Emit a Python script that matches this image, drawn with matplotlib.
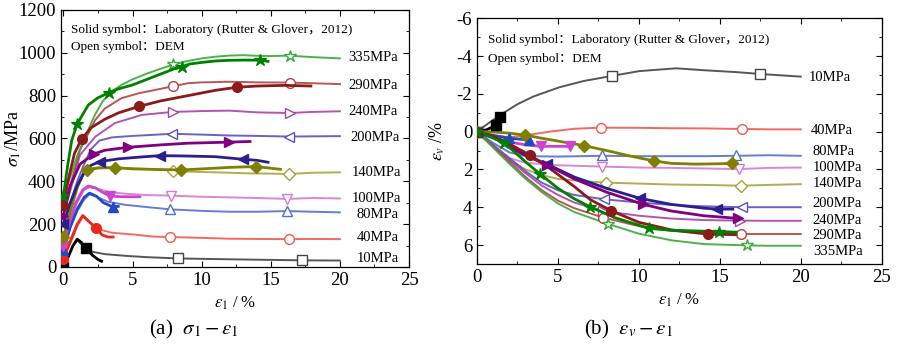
import matplotlib
matplotlib.use("Agg")
import matplotlib.pyplot as plt
from matplotlib.ticker import MultipleLocator

plt.rcParams['font.family'] = ['Liberation Serif', 'Noto Sans CJK SC']
plt.rcParams['mathtext.fontset'] = 'stix'
plt.rcParams['axes.unicode_minus'] = False

pressures = [10, 40, 80, 100, 140, 200, 240, 290, 335]
labels = ['10MPa', '40MPa', '80MPa', '100MPa', '140MPa', '200MPa', '240MPa', '290MPa', '335MPa']
markers = ['s', 'o', '^', 'v', 'D', '<', '>', 'o', '*']
lab_colors = ['#000000', '#e8291c', '#2448c4', '#cc44cc', '#808000', '#2b1f8f', '#800080', '#8b1a1a', '#008000']
dem_colors = ['#444444', '#f05a50', '#5570cc', '#d578d5', '#a5a540', '#5a52b8', '#a844a8', '#b04444', '#3aa83a']

# ---- (a) axial stress vs axial strain ----
sig_lab = {
    10: [(0, 0), (0.3, 40), (0.7, 100), (1.0, 130), (1.3, 115), (1.63, 89), (2.1, 55), (2.5, 35), (2.76, 27)],
    40: [(0, 38), (0.5, 120), (1.0, 200), (1.4, 240), (1.8, 215), (2.36, 181), (2.8, 150), (3.2, 140), (3.6, 140)],
    80: [(0, 78), (0.5, 190), (1.0, 270), (1.5, 325), (1.9, 345), (2.4, 330), (2.9, 300), (3.56, 281), (3.97, 283)],
    100: [(0, 100), (0.4, 200), (0.9, 300), (1.4, 360), (1.8, 378), (2.3, 370), (2.8, 350), (3.37, 331), (4.2, 328), (5.53, 328)],
    140: [(0, 140), (0.5, 260), (1.0, 370), (1.4, 430), (1.73, 453), (2.5, 462), (3.73, 464), (5, 458), (7, 455), (8.53, 453),
          (10, 458), (12, 465), (13.94, 469), (15.7, 456)],
    200: [(0, 200), (0.5, 300), (1.0, 380), (1.5, 440), (2.0, 475), (2.64, 492), (4, 505), (5.5, 513), (6.97, 520),
          (9, 518), (11, 515), (12.98, 503), (14, 498), (14.8, 489)],
    240: [(0, 240), (0.5, 380), (1.2, 480), (2.2, 528), (3, 545), (4.69, 559), (7, 570), (9, 578), (12, 583), (13.5, 586)],
    290: [(0, 290), (0.4, 420), (0.8, 530), (1.32, 597), (2, 650), (3, 690), (4, 720), (5.48, 750), (7, 775), (9, 800),
          (11, 825), (12.55, 839), (14, 845), (16, 848), (17.9, 845)],
    335: [(0, 330), (0.3, 470), (0.6, 590), (1.0, 668), (1.8, 756), (2.5, 790), (3.3, 814), (4, 832), (5, 850), (6, 875),
          (7, 900), (8, 925), (8.55, 935), (9.15, 948), (10, 955), (11, 962), (12, 965), (13, 966), (14.2, 966), (14.8, 960)],
}
sig_lab_mk = {
    10: [(0, 0), (1.63, 89)],
    40: [(0, 38), (2.36, 181)],
    80: [(0, 78), (3.56, 281)],
    100: [(0, 100), (3.37, 331)],
    140: [(0, 140), (1.73, 453), (3.73, 464), (8.53, 453), (13.94, 469)],
    200: [(0, 200), (2.64, 492), (6.97, 520), (12.98, 503)],
    240: [(0, 240), (2.2, 528), (4.69, 559), (12.0, 583)],
    290: [(0, 290), (1.32, 597), (5.48, 750), (12.55, 839)],
    335: [(0, 330), (1.0, 668), (3.3, 814), (8.55, 935), (14.2, 966)],
}
sig_dem = {
    10: [(0, 10), (0.3, 40), (0.7, 100), (1.0, 125), (1.4, 100), (2.0, 72), (3, 60), (4.5, 52), (6, 46), (8.29, 40),
         (10, 38), (12, 36), (14, 34), (17.24, 31), (20, 30)],
    40: [(0, 38), (0.5, 110), (1.0, 190), (1.45, 240), (2.0, 205), (2.6, 175), (3.5, 160), (5, 152), (6.5, 142),
         (7.69, 140), (10, 136), (12, 132), (14, 131), (16.35, 130), (18, 131), (20, 130)],
    80: [(0, 78), (0.5, 180), (1.0, 260), (1.5, 315), (1.9, 340), (2.5, 325), (3.2, 305), (4.5, 290), (6, 280),
         (7.74, 269), (10, 262), (12, 258), (14, 258), (16.2, 261), (18, 258), (20, 255)],
    100: [(0, 100), (0.5, 210), (1.0, 300), (1.5, 360), (1.9, 372), (2.5, 365), (3.3, 350), (4.5, 342), (6, 336),
          (7.8, 333), (10, 328), (12, 325), (14, 322), (16.2, 318), (18, 322), (20, 320)],
    140: [(0, 140), (0.5, 260), (1.0, 370), (1.5, 440), (2.0, 462), (3, 466), (4.5, 462), (6, 458), (7.93, 450),
          (9.15, 445), (11, 442), (12, 440), (13.5, 437), (15, 436), (16.3, 434), (18, 440), (20, 442)],
    200: [(0, 200), (0.5, 300), (1.0, 400), (1.5, 480), (2.0, 550), (2.6, 590), (3.5, 605), (5, 612), (6.5, 617),
          (7.9, 622), (10, 618), (12, 614), (14, 612), (16.35, 609), (18, 610), (20, 611)],
    240: [(0, 240), (0.6, 380), (1.2, 523), (2.3, 608), (3.73, 672), (5.66, 710), (7.9, 724), (10, 728), (12, 730),
          (14, 722), (16.4, 719), (18, 724), (20, 727)],
    290: [(0, 290), (0.5, 380), (1.2, 546), (2.3, 686), (3, 740), (4.2, 788), (5.5, 812), (6.6, 826), (8, 845),
          (9, 858), (10, 862), (12, 865), (14, 862), (16.4, 861), (18, 858), (20, 854)],
    335: [(0, 335), (0.5, 420), (1.0, 520), (1.6, 610), (2.2, 700), (2.8, 770), (3.4, 816), (4.2, 850), (5, 876),
          (6, 902), (7, 925), (8, 946), (9, 962), (10, 974), (11, 982), (12, 987), (13, 989), (14, 986), (15, 985),
          (16.4, 987), (17, 984), (18, 980), (19, 977), (20, 974)],
}
sig_dem_mk = {
    10: [(8.29, 40), (17.24, 31)],
    40: [(7.69, 140), (16.35, 130)],
    80: [(7.74, 269), (16.2, 261)],
    100: [(7.8, 333), (16.2, 318)],
    140: [(7.93, 450), (16.3, 434)],
    200: [(7.88, 622), (16.35, 609)],
    240: [(7.9, 724), (16.4, 719)],
    290: [(7.96, 845), (16.4, 861)],
    335: [(7.94, 946), (16.4, 987)],
}
sig_label_pos = [(21.2, 39), (21.2, 137), (21.2, 247), (20.85, 320), (20.85, 442), (20.75, 605),
                 (20.6, 727), (20.6, 848), (20.6, 977)]

# ---- (b) volumetric strain vs axial strain ----
ev_lab = {
    10: [(0, 0), (0.6, -0.1), (1.2, -0.35), (1.44, -0.78)],
    40: [(0, 0), (0.4, 0.05)],
    80: [(0, 0), (1, 0.2), (2.0, 0.35), (3.2, 0.44)],
    100: [(0, 0), (1, 0.3), (2, 0.55), (3, 0.7), (3.98, 0.78), (5, 0.78), (5.73, 0.78)],
    140: [(0, 0), (1, 0.02), (2, 0.08), (2.95, 0.18), (4, 0.35), (5, 0.5), (6.6, 0.74), (8, 1.0), (9.5, 1.3),
          (10.93, 1.55), (12, 1.68), (13.5, 1.72), (15, 1.7), (15.73, 1.68)],
    200: [(0, 0), (1, 0.3), (2, 0.8), (3, 1.25), (4.3, 1.71), (6, 2.4), (8, 3.0), (10.06, 3.53), (12, 3.85),
          (14, 4.05), (14.8, 4.1), (15.8, 4.1)],
    240: [(0, 0), (1, 0.3), (2, 0.8), (3, 1.25), (4.3, 1.75), (6, 2.5), (8, 3.2), (10.27, 3.85), (12, 4.2),
          (14, 4.45), (16.1, 4.59)],
    290: [(0, 0), (1, 0.25), (2, 0.65), (3.26, 1.24), (4.5, 1.95), (6, 2.9), (7, 3.6), (8.27, 4.18), (10, 4.8),
          (12, 5.2), (14.29, 5.43), (16, 5.45)],
    335: [(0, 0), (1.67, 0.58), (3, 1.6), (3.92, 2.26), (5, 3.0), (6, 3.55), (6.97, 3.97), (8.5, 4.55),
          (10.62, 5.12), (12, 5.22), (14.97, 5.29), (16, 5.32)],
}
ev_lab_mk = {
    10: [(0, 0), (1.2, -0.35), (1.44, -0.78)],
    40: [(0, 0)],
    80: [(0, 0), (2.0, 0.35), (3.2, 0.44)],
    100: [(0, 0), (3.98, 0.78), (5.73, 0.78)],
    140: [(0, 0), (2.95, 0.18), (6.6, 0.74), (10.93, 1.55), (15.73, 1.68)],
    200: [(0, 0), (4.3, 1.71), (10.06, 3.53), (14.8, 4.1)],
    240: [(0, 0), (4.3, 1.75), (10.27, 3.85), (16.1, 4.59)],
    290: [(0, 0), (3.26, 1.24), (8.27, 4.18), (14.29, 5.43)],
    335: [(0, 0), (1.67, 0.58), (3.92, 2.26), (6.97, 3.97), (10.62, 5.12), (14.97, 5.29)],
}
ev_dem = {
    10: [(0, 0), (0.8, -0.5), (1.6, -0.97), (2.5, -1.45), (3.46, -1.85), (5.1, -2.35), (6.6, -2.68), (8.35, -2.95),
         (10, -3.2), (12.3, -3.35), (14, -3.25), (16, -3.15), (17.5, -3.05), (20, -2.91)],
    40: [(0, 0), (1, 0.2), (2, 0.3), (3, 0.2), (4.5, 0), (6, -0.15), (7.65, -0.21), (10, -0.2), (12, -0.18),
         (14, -0.17), (16.35, -0.14), (18, -0.12), (20, -0.12)],
    80: [(0, 0), (1, 0.6), (2, 1.1), (3, 1.3), (5, 1.32), (7.7, 1.28), (10, 1.3), (12, 1.3), (14, 1.3),
         (16, 1.28), (18, 1.25), (20, 1.28)],
    100: [(0, 0), (1, 0.8), (2, 1.4), (3, 1.65), (5, 1.78), (7.75, 1.85), (10, 1.9), (12, 1.92), (14, 1.95),
          (16.2, 1.98), (18, 1.92), (20, 1.9)],
    140: [(0, 0), (1, 0.8), (2, 1.5), (3, 2.0), (4, 2.3), (5, 2.5), (6.5, 2.62), (7.96, 2.7), (10, 2.75),
          (12, 2.8), (14, 2.82), (16.3, 2.86), (18, 2.82), (20, 2.78)],
    200: [(0, 0), (1, 0.7), (2, 1.4), (3, 2.1), (4, 2.7), (5, 3.1), (6, 3.35), (7.86, 3.58), (10, 3.75),
          (12, 3.88), (14, 3.95), (16.35, 4.0), (18, 4.0), (20, 4.0)],
    240: [(0, 0), (1, 0.75), (2, 1.5), (3, 2.2), (4, 2.85), (5, 3.35), (6, 3.75), (7.8, 4.2), (10, 4.45),
          (12, 4.6), (14, 4.68), (16.25, 4.71), (18, 4.72), (20, 4.72)],
    290: [(0, 0), (1, 0.8), (2, 1.6), (3, 2.4), (4, 3.1), (5, 3.65), (6, 4.05), (7.8, 4.55), (10, 5.0),
          (12, 5.25), (14, 5.38), (16.3, 5.42), (18, 5.42), (20, 5.42)],
    335: [(0, 0), (1, 0.85), (2, 1.7), (3, 2.5), (4, 3.2), (5, 3.8), (6, 4.25), (8.1, 4.89), (10, 5.4),
          (12, 5.75), (14, 5.95), (16.66, 6.02), (18, 6.04), (20, 6.04)],
}
ev_dem_mk = {
    10: [(8.35, -2.95), (17.5, -3.05)],
    40: [(7.65, -0.21), (16.35, -0.14)],
    80: [(7.7, 1.24), (16.0, 1.24)],
    100: [(7.75, 1.85), (16.2, 1.98)],
    140: [(7.96, 2.7), (16.3, 2.86)],
    200: [(7.86, 3.58), (16.35, 4.0)],
    240: [(7.8, 4.2), (16.25, 4.71)],
    290: [(7.8, 4.55), (16.3, 5.42)],
    335: [(8.1, 4.89), (16.66, 6.02)],
}
ev_label_pos = [(20.47, -2.86), (20.6, -0.05), (20.74, 1.06), (20.74, 1.9), (20.74, 2.77), (20.74, 3.79),
                (20.74, 4.68), (20.74, 5.5), (20.74, 6.35)]

note_lines = ['Solid symbol：Laboratory (Rutter & Glover，2012)', 'Open symbol：DEM']


def marker_size(m):
    if m == 'D':
        return 6
    if m == '*':
        return 9
    return 7


def draw_panel(ax, lab, lab_mk, dem, dem_mk, label_pos):
    # DEM curves (thin, open symbols) first, then lab curves on top
    for i, p in enumerate(pressures):
        ms = marker_size(markers[i])
        x, y = zip(*dem[p])
        ax.plot(x, y, color=dem_colors[i], lw=1.4, alpha=0.9, zorder=2)
        x, y = zip(*dem_mk[p])
        ax.plot(x, y, ls='none', marker=markers[i], ms=ms, mfc='white', mec=dem_colors[i], mew=1.0, zorder=3)
    for i, p in enumerate(pressures):
        ms = marker_size(markers[i])
        x, y = zip(*lab[p])
        ax.plot(x, y, color=lab_colors[i], lw=2.0, zorder=4)
        x, y = zip(*lab_mk[p])
        ax.plot(x, y, ls='none', marker=markers[i], ms=ms, color=lab_colors[i], mec=lab_colors[i], zorder=5)
        ax.text(label_pos[i][0], label_pos[i][1], labels[i], fontsize=10.5, va='center', ha='left')
    ax.tick_params(which='both', direction='in', top=True, right=True, labelsize=13.5)
    ax.tick_params(which='major', length=4)
    ax.tick_params(which='minor', length=2.5)
    ax.xaxis.set_major_locator(MultipleLocator(5))
    ax.xaxis.set_minor_locator(MultipleLocator(2.5))
    ax.set_xlabel(r'$\varepsilon_1$ / %', fontsize=12, labelpad=4)
    for s in ax.spines.values():
        s.set_linewidth(0.9)


fig = plt.figure(figsize=(9, 3.54), dpi=100)
ax1 = fig.add_axes([0.0678, 0.2458, 0.3867, 0.726])
ax2 = fig.add_axes([0.530, 0.2545, 0.4497, 0.694])

draw_panel(ax1, sig_lab, sig_lab_mk, sig_dem, sig_dem_mk, sig_label_pos)
ax1.set_xlim(-0.17, 25)
ax1.set_ylim(0, 1200)
ax1.yaxis.set_major_locator(MultipleLocator(200))
ax1.yaxis.set_minor_locator(MultipleLocator(100))
ax1.set_ylabel(r'$\sigma_1$/MPa', fontsize=13)
ax1.yaxis.set_label_coords(-0.11, 0.5)
ax1.text(0.028, 0.91, note_lines[0], transform=ax1.transAxes, fontsize=9.5, va='baseline')
ax1.text(0.028, 0.845, note_lines[1], transform=ax1.transAxes, fontsize=9.5, va='baseline')

draw_panel(ax2, ev_lab, ev_lab_mk, ev_dem, ev_dem_mk, ev_label_pos)
ax2.set_xlim(0, 25)
ax2.set_ylim(7, -6)
ax2.yaxis.set_major_locator(MultipleLocator(2))
ax2.yaxis.set_minor_locator(MultipleLocator(1))
ax2.set_ylabel(r'$\varepsilon_v$ /%', fontsize=13)
ax2.yaxis.set_label_coords(-0.075, 0.5)
ax2.text(0.027, 0.9, note_lines[0], transform=ax2.transAxes, fontsize=9.5, va='baseline')
ax2.text(0.027, 0.822, note_lines[1], transform=ax2.transAxes, fontsize=9.5, va='baseline')

fig.text(0.215, 0.068, r'(a)  $\sigma_1-\varepsilon_1$', fontsize=15, ha='center', va='center')
fig.text(0.698, 0.068, r'(b)  $\varepsilon_v-\varepsilon_1$', fontsize=15, ha='center', va='center')

fig.savefig('out.png', dpi=100)
